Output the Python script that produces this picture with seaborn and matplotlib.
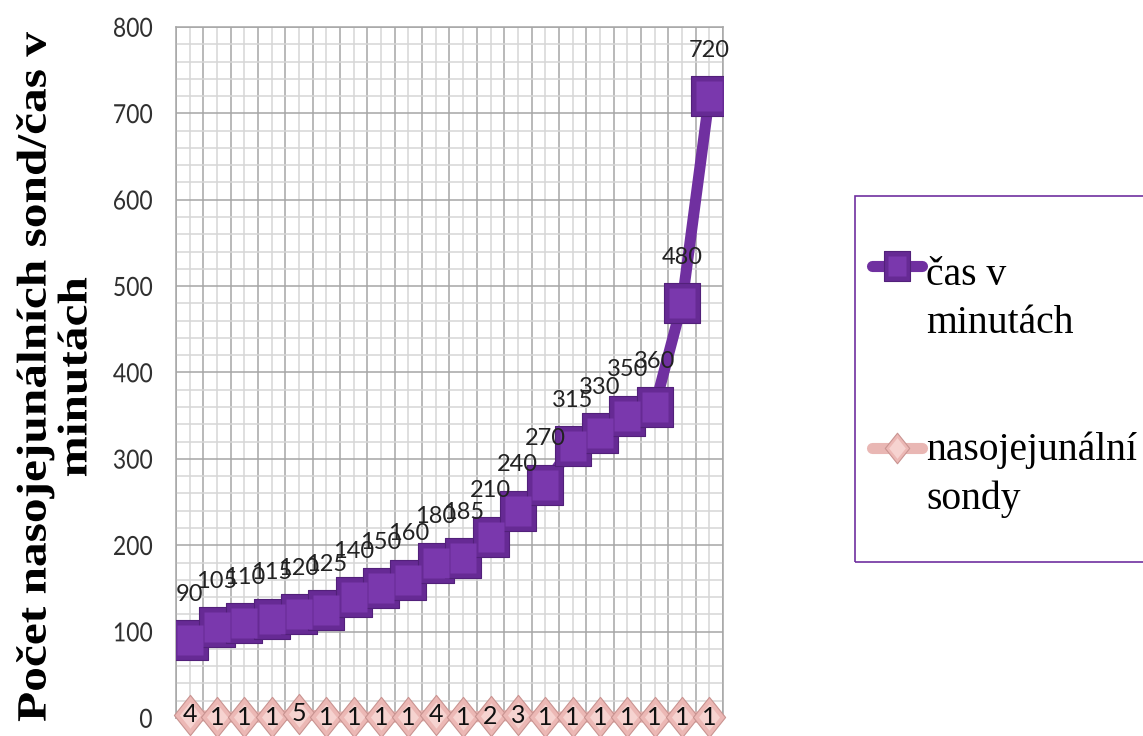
import numpy as np
import pandas as pd
import matplotlib
matplotlib.use("Agg")
import matplotlib.pyplot as plt
import seaborn as sns
from matplotlib.path import Path
from matplotlib.transforms import Affine2D
from matplotlib import patheffects
from matplotlib.lines import Line2D
from matplotlib.patches import Rectangle

# --- data -------------------------------------------------------------
cas_minuty = [90, 105, 110, 115, 120, 125, 140, 150, 160, 180,
              185, 210, 240, 270, 315, 330, 350, 360, 480, 720]
pocet_sond = [4, 1, 1, 1, 5, 1, 1, 1, 1, 4,
              1, 2, 3, 1, 1, 1, 1, 1, 1, 1]
y_ticks = [0, 100, 200, 300, 400, 500, 600, 700, 800]
nazvy_rad = ["čas v\nminutách", "nasojejunální\nsondy"]
osa_y = "Počet nasojejunálních sond/čas v\nminutách"

# --- colours ----------------------------------------------------------
PURPLE = "#7030a0"
PURPLE_DARK = "#52207a"
PURPLE_OUTER = "#662a94"
PURPLE_INNER = "#7a38ad"
PINK_LINE = "#e9b7b4"
PINK_OUTER = "#ecb8b5"
PINK_EDGE = "#c99491"
PINK_INNER = "#f6d3d0"
GRID_MAJOR = "#a6a6a6"
GRID_MINOR = "#d6d6d6"


class VerticalStretch(patheffects.AbstractPathEffect):
    """Draws text glyphs stretched vertically about each line's centre."""

    def __init__(self, factor):
        super().__init__()
        self.factor = factor

    def draw_path(self, renderer, gc, tpath, affine, rgbFace=None):
        box = tpath.get_extents(affine)
        cy = 0.5 * (box.y0 + box.y1)
        stretched = affine + Affine2D().translate(0, -cy).scale(1, self.factor).translate(0, cy)
        renderer.draw_path(gc, tpath, stretched, rgbFace)


# slightly tall marker shapes
square = Path([(-0.88, -1), (0.88, -1), (0.88, 1), (-0.88, 1), (-0.88, -1)],
              [Path.MOVETO, Path.LINETO, Path.LINETO, Path.LINETO, Path.CLOSEPOLY])
diamond = Path([(0, -1), (0.8, 0), (0, 1), (-0.8, 0), (0, -1)],
               [Path.MOVETO, Path.LINETO, Path.LINETO, Path.LINETO, Path.CLOSEPOLY])

sns.set_style("white")
plt.rcParams["font.family"] = ["Lato", "DejaVu Sans"]

W, H = 1143, 736
fig = plt.figure(figsize=(W / 100, H / 100), dpi=100)
ax = fig.add_axes([176 / W, 18 / H, 547 / W, 691 / H])

df = pd.DataFrame({
    "poradi": np.arange(len(cas_minuty)),
    "cas": cas_minuty,
    "sondy": pocet_sond,
})

# probe count series along the bottom
sns.lineplot(data=df, x="poradi", y="sondy", ax=ax, color=PINK_LINE, lw=8,
             marker=diamond, ms=29, mfc=PINK_OUTER, mec=PINK_EDGE, mew=0.8,
             clip_on=False, zorder=3, legend=False, solid_capstyle="round")
ax.plot(df["poradi"], df["sondy"], ls="none", marker=diamond, ms=19,
        mfc=PINK_INNER, mec="none", clip_on=False, zorder=3.1)

# time series
sns.lineplot(data=df, x="poradi", y="cas", ax=ax, color=PURPLE, lw=8,
             marker=square, ms=29, mfc=PURPLE_OUTER, mec=PURPLE_DARK, mew=0.8,
             zorder=4, legend=False, solid_capstyle="round")
ax.plot(df["poradi"], df["cas"], ls="none", marker=square, ms=21,
        mfc=PURPLE_INNER, mec="none", zorder=4.1)

# value labels
for i, v in enumerate(cas_minuty):
    ax.annotate(str(v), (i, v), xytext=(0, 33), textcoords="offset points",
                ha="center", va="center", fontsize=17, color="#222222", zorder=6)
for i, n in enumerate(pocet_sond):
    ax.annotate(str(n), (i, n), ha="center", va="center", fontsize=18,
                color="#111111", zorder=6, annotation_clip=False)

# axes, ticks and grid
ax.set_xlim(-0.5, len(cas_minuty) - 0.5)
ax.set_ylim(0, 800)
ax.set_xticks(np.arange(-0.5, len(cas_minuty), 1))
ax.set_xticks(np.arange(0, len(cas_minuty)), minor=True)
ax.set_xticklabels([])
ax.tick_params(axis="x", which="both", length=0)
ax.set_yticks(y_ticks)
ax.set_yticks(np.arange(0, 801, 20), minor=True)
ax.tick_params(axis="y", which="major", length=6, width=1, direction="out",
               color=GRID_MAJOR, pad=11, labelsize=16.5, labelcolor="#303030")
ax.tick_params(axis="y", which="minor", length=0)
ax.grid(which="minor", color=GRID_MINOR, lw=1.1)
ax.grid(which="major", color=GRID_MAJOR, lw=1.1)
ax.set_axisbelow(True)
for sp in ax.spines.values():
    sp.set_color(GRID_MAJOR)
    sp.set_linewidth(1.1)
ax.set_xlabel("")
for tick in ax.yaxis.get_major_ticks():
    tick.label1.set_path_effects([VerticalStretch(1.15)])

lab = ax.set_ylabel(osa_y, fontfamily="Liberation Serif", fontweight="bold",
                    fontsize=30, color="black", linespacing=1.1)
lab.set_rotation_mode("default")
lab.set_ha("center")
lab.set_va("center")
ax.yaxis.set_label_coords((56 - 176) / 547, 0.493)
lab.set_path_effects([VerticalStretch(1.185)])

# legend box on the right
fig.add_artist(Rectangle((855 / W, 1 - 562 / H), 0.3, (562 - 196) / H,
                         transform=fig.transFigure, fill=False,
                         ec=PURPLE, lw=1.2))

# (handle y, baseline of the last text line) in pixels from the top
legend_rows = [
    (266, 333, PURPLE, square, PURPLE_OUTER, PURPLE_DARK, PURPLE_INNER),
    (448, 509, PINK_LINE, diamond, PINK_OUTER, PINK_EDGE, PINK_INNER),
]
for (hy, by, lc, mk, fo, fe, fi), name in zip(legend_rows, nazvy_rad):
    yf = 1 - hy / H
    fig.add_artist(Line2D([872 / W, 922 / W], [yf, yf], transform=fig.transFigure,
                          color=lc, lw=8, solid_capstyle="round"))
    fig.add_artist(Line2D([897 / W], [yf], transform=fig.transFigure, ls="none",
                          marker=mk, ms=22, mfc=fo, mec=fe, mew=0.8))
    fig.add_artist(Line2D([897 / W], [yf], transform=fig.transFigure, ls="none",
                          marker=mk, ms=15, mfc=fi, mec="none"))
    fig.text(926 / W, 1 - by / H, name, family="Liberation Serif", fontsize=28.5,
             color="black", ha="left", va="baseline", linespacing=1.4)

fig.savefig("out.png", dpi=100)
